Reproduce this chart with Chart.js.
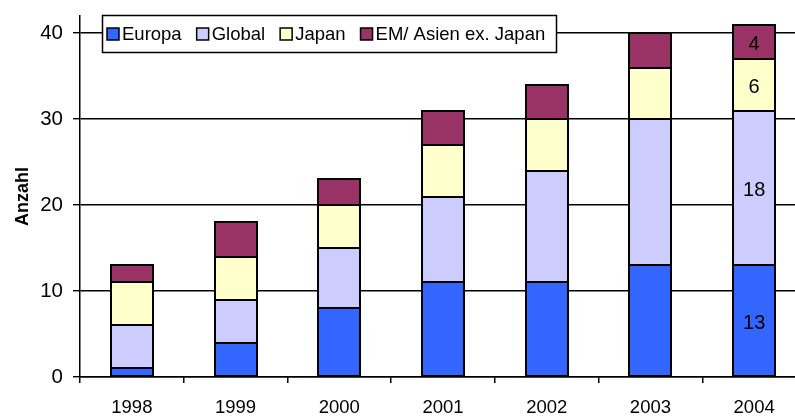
<!DOCTYPE html>
<html>
<head>
<meta charset="utf-8">
<script src="https://cdn.jsdelivr.net/npm/chart.js@4/dist/chart.umd.min.js"></script>
<style>
  html, body { margin: 0; padding: 0; background: #fff; overflow: hidden; }
  #wrap { position: relative; width: 810px; height: 417px; }
</style>
</head>
<body>
<div id="wrap"><canvas id="c" width="810" height="417"></canvas></div>
<script>
// Number of funds per year and region
const years = ['1998', '1999', '2000', '2001', '2002', '2003', '2004'];
const europa = [1, 4, 8, 11, 11, 13, 13];
const global = [5, 5, 7, 10, 13, 17, 18];
const japan = [5, 5, 5, 6, 6, 6, 6];
const emAsien = [2, 4, 3, 4, 4, 4, 4];
const yTicks = [0, 10, 20, 30, 40];
const labelledYear = '2004';

const FONT = 'Arial, "Liberation Sans", sans-serif';

// Legend drawn as a boxed row inside the plot, over the top gridline
const boxLegend = {
  id: 'boxLegend',
  afterDraw(chart) {
    const ctx = chart.ctx;
    const x0 = 102, y0 = 15, w = 454, h = 37;
    ctx.save();
    ctx.fillStyle = '#fff';
    ctx.fillRect(x0, y0, w, h);
    ctx.strokeStyle = '#000';
    ctx.lineWidth = 1.5;
    ctx.strokeRect(x0 + 0.5, y0 + 0.5, w, h);
    ctx.font = '18.5px ' + FONT;
    ctx.textBaseline = 'middle';
    let x = x0 + 5;
    const cy = y0 + h / 2 + 0.5;
    chart.data.datasets.forEach(ds => {
      ctx.fillStyle = ds.backgroundColor;
      ctx.fillRect(x, cy - 6, 12, 12);
      ctx.lineWidth = 1.5;
      ctx.strokeStyle = '#000';
      ctx.strokeRect(x, cy - 6, 12, 12);
      x += 15;
      ctx.fillStyle = '#000';
      ctx.textAlign = 'left';
      ctx.fillText(ds.label, x, cy + 1);
      x += ctx.measureText(ds.label).width + 15;
    });
    ctx.restore();
  }
};

// Uniform black outline round every bar segment
const segmentOutlines = {
  id: 'segmentOutlines',
  afterDatasetsDraw(chart) {
    const ctx = chart.ctx;
    ctx.save();
    ctx.strokeStyle = '#000';
    ctx.lineWidth = 2;
    chart.data.datasets.forEach((ds, i) => {
      chart.getDatasetMeta(i).data.forEach(el => {
        const left = Math.round(el.x - el.width / 2);
        const right = Math.round(el.x + el.width / 2);
        const top = Math.round(el.y);
        const bottom = Math.round(el.base);
        ctx.strokeRect(left, top, right - left, bottom - top);
      });
    });
    ctx.restore();
  }
};

// Segment values written inside the last year's bar
const segmentLabels = {
  id: 'segmentLabels',
  afterDatasetsDraw(chart) {
    const ctx = chart.ctx;
    const idx = chart.data.labels.indexOf(labelledYear);
    ctx.save();
    ctx.font = '20px ' + FONT;
    ctx.fillStyle = '#000';
    ctx.textAlign = 'center';
    ctx.textBaseline = 'middle';
    chart.data.datasets.forEach((ds, i) => {
      const el = chart.getDatasetMeta(i).data[idx];
      const v = ds.data[idx];
      ctx.fillText(String(v), el.x, (el.y + el.base) / 2 + 3);
    });
    ctx.restore();
  }
};

new Chart(document.getElementById('c'), {
  type: 'bar',
  data: {
    labels: years,
    datasets: [
      { label: 'Europa', data: europa, backgroundColor: '#3366FF' },
      { label: 'Global', data: global, backgroundColor: '#CCCCFF' },
      { label: 'Japan', data: japan, backgroundColor: '#FFFFCC' },
      { label: 'EM/ Asien ex. Japan', data: emAsien, backgroundColor: '#993366' }
    ].map(d => Object.assign(d, {
      borderWidth: 0,
      categoryPercentage: 1, barPercentage: 0.405
    }))
  },
  options: {
    responsive: false,
    animation: false,
    layout: { padding: { top: 16, left: 12, right: 4, bottom: 0 } },
    plugins: { legend: { display: false }, tooltip: { enabled: false } },
    scales: {
      x: {
        stacked: true,
        grid: { display: true, drawOnChartArea: false, drawTicks: true, tickLength: 6, color: '#000', offset: true, lineWidth: 1.5 },
        border: { display: true, color: '#000', width: 1.5 },
        ticks: { color: '#000', font: { family: FONT, size: 18.5 }, padding: 14, maxRotation: 0 },
        afterFit(s) { s.height = 40; }
      },
      y: {
        stacked: true,
        min: 0, max: 42,
        afterBuildTicks(s) { s.ticks = yTicks.map(v => ({ value: v })); },
        grid: { color: '#000', lineWidth: 1.4, tickLength: 7 },
        border: { display: true, color: '#000', width: 1.5 },
        ticks: { color: '#000', font: { family: FONT, size: 20.5 }, padding: 10 },
        title: { display: true, text: 'Anzahl', color: '#000', font: { family: FONT, size: 18, weight: 'bold' }, padding: { top: 0, bottom: 0 } },
        afterFit(s) { s.width = 68; s.paddingTop = 0; s.paddingBottom = 0; }
      }
    }
  },
  plugins: [segmentOutlines, segmentLabels, boxLegend]
});
</script>
</body>
</html>
